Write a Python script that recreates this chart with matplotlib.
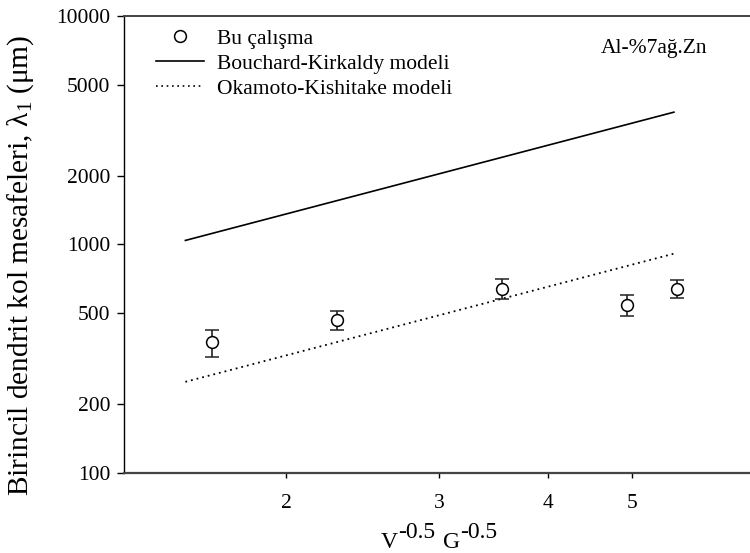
import matplotlib
matplotlib.use("Agg")
import matplotlib.pyplot as plt
from matplotlib.lines import Line2D
from matplotlib.ticker import FixedLocator, NullLocator, FixedFormatter

plt.rcParams['font.family'] = ['Liberation Serif', 'DejaVu Serif']
plt.rcParams['mathtext.fontset'] = 'custom'
plt.rcParams['mathtext.rm'] = 'Liberation Serif'
plt.rcParams['mathtext.it'] = 'Liberation Serif:italic'
plt.rcParams['mathtext.bf'] = 'Liberation Serif:bold'

# deneysel sonuçlar (ortalama ve standart sapma)
x_deney = [1.642, 2.288, 3.546, 4.93, 5.64]
y_deney = [372, 466, 639, 542, 639]
y_hata = [50, 45, 65, 58, 56]

# model doğrularının uç noktaları
x_model = [1.53, 5.59]
y_bouchard = [1040, 3790]
y_okamoto = [250, 910]

y_ticks = [100, 200, 500, 1000, 2000, 5000, 10000]
x_ticks = [2, 3, 4, 5]

W, H = 750, 553
fig = plt.figure(figsize=(W / 100, H / 100), dpi=100)
ax = fig.add_axes([0.1653, 0.1452, 0.8347, 0.826])

ax.plot(x_model, y_bouchard, color='black', lw=1.2, ls='-')
ax.plot(x_model, y_okamoto, color='black', lw=1.3, ls=(0, (1, 2.2)))
ax.errorbar(x_deney, y_deney, yerr=y_hata, fmt='o', ms=8.5, mfc='white',
            mec='black', mew=1.1, ecolor='#222222', elinewidth=1.2,
            capsize=4.7, capthick=1.4)

ax.set_xscale('log')
ax.set_yscale('log')
ax.set_xlim(1.3, 6.84)
ax.set_ylim(100, 10000)

ax.xaxis.set_major_locator(FixedLocator(x_ticks))
ax.xaxis.set_major_formatter(FixedFormatter([str(t) for t in x_ticks]))
ax.xaxis.set_minor_locator(NullLocator())
ax.yaxis.set_major_locator(FixedLocator(y_ticks))
ax.yaxis.set_major_formatter(FixedFormatter([str(t) for t in y_ticks]))
ax.yaxis.set_minor_locator(NullLocator())

ax.tick_params(axis='y', direction='out', length=5, width=1, labelsize=15.5, pad=5)
ax.tick_params(axis='x', direction='out', length=3.5, width=1, labelsize=15.5, pad=12)

ax.spines['right'].set_visible(False)
ax.spines['left'].set_color('black')
ax.spines['left'].set_linewidth(1.0)
ax.spines['bottom'].set_color('#444444')
ax.spines['bottom'].set_linewidth(1.6)
ax.spines['top'].set_color('#444444')
ax.spines['top'].set_linewidth(1.4)

# y ekseni başlığı
fig.text(21 / W, 1 - 265 / H,
         r'Birincil dendrit kol mesafeleri, $\mathregular{\lambda_1}$ (μm)',
         rotation=90, fontsize=21.2, ha='center', va='center')

# x ekseni başlığı: üsler taban yazıyla aynı boyutta
fs = 17
t1 = fig.text(381 / W, 1 - 548 / H, 'V', fontsize=fs, va='baseline', ha='left')
t2 = ax.annotate('-0.5', xy=(1, 0), xycoords=t1, xytext=(0, 7.5),
                 textcoords='offset points', fontsize=fs, va='bottom', ha='left')
t3 = ax.annotate('G', xy=(1, 0), xycoords=t2, xytext=(6, -7.5),
                 textcoords='offset points', fontsize=fs, va='bottom', ha='left')
ax.annotate('-0.5', xy=(1, 0), xycoords=t3, xytext=(0, 7.5),
            textcoords='offset points', fontsize=fs, va='bottom', ha='left')

ax.text(0.931, 0.928, 'Al-%7ağ.Zn', transform=ax.transAxes, fontsize=15.5,
        ha='right', va='center')

handles = [
    Line2D([], [], ls='none', marker='o', ms=8.5, mfc='white', mec='black', mew=1.1),
    Line2D([], [], color='black', lw=1.2),
    Line2D([], [], color='black', lw=1.2, ls=(0, (1, 2.2))),
]
labels = ['Bu çalışma', 'Bouchard-Kirkaldy modeli', 'Okamoto-Kishitake modeli']
ax.legend(handles, labels, loc='upper left', bbox_to_anchor=(0.031, 1.0),
          frameon=False, fontsize=15.5, handlelength=2.2, handletextpad=0.6,
          labelspacing=0.22, borderaxespad=0.2)

fig.savefig('out.png', dpi=100)
